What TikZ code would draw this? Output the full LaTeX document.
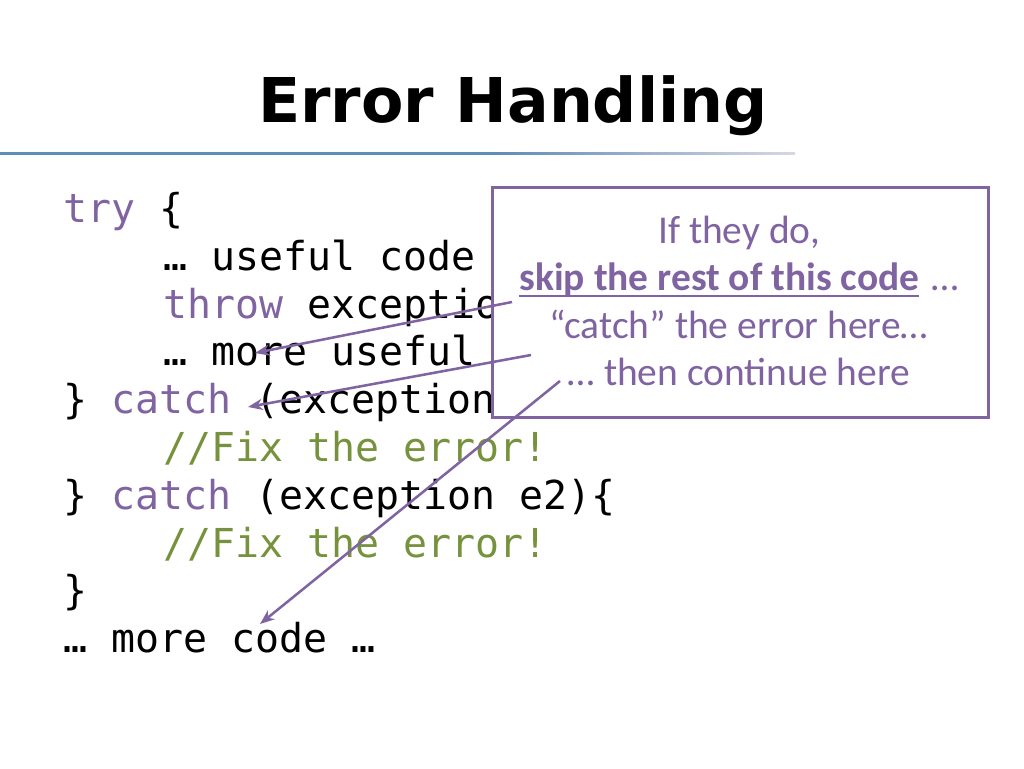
\documentclass[tikz,border=0pt]{standalone}
\usepackage{fontspec}
\setmainfont{Carlito}
\setmonofont{DejaVu Sans Mono}
\newfontfamily\titlefont{DejaVu Sans}
\usetikzlibrary{arrows.meta}

\definecolor{kwpurple}{RGB}{128,100,162}
\definecolor{cmtgreen}{RGB}{118,146,60}
\definecolor{rulblue}{RGB}{96,140,184}
\definecolor{rulgray}{RGB}{215,215,228}

\newcommand{\kw}[1]{{\color{kwpurple}#1}}
\newcommand{\cmt}[1]{{\color{cmtgreen}#1}}
\newcommand{\lineunder}[1]{\setbox0\hbox{#1}\rlap{\raisebox{-5.5pt}{\rule{\wd0}{1.8pt}}}\box0}

\tikzset{
  code/.style={anchor=base west, inner sep=0pt, font=\ttfamily\fontsize{29.9}{36}\selectfont},
  note/.style={anchor=base, inner sep=0pt, text=kwpurple, font=\fontsize{29.6}{35}\selectfont},
  pointer/.style={draw=kwpurple, line width=1.9pt, -{Stealth[length=11pt,width=8.5pt]}}
}

\begin{document}
\begin{tikzpicture}[x=0.75pt, y=-0.75pt]
      \useasboundingbox (0,0) rectangle (1024,768);
      % title and rule
      \node[anchor=base, inner sep=0pt, font=\titlefont\bfseries\fontsize{46.3}{55}\selectfont] (title) at (513,122) {Error Handling};
      \fill[rulblue] (0,152) rectangle (497,154.5);
      \shade[left color=rulblue, right color=rulgray] (497,152) rectangle (795,154.5);
      % the code
      \node[code] (try) at (63,222) {\kw{try} \{};
      \node[code] (useful) at (163,270) {… useful code};
      \node[code] (throw) at (163,318) {\kw{throw} exception};
      \node[code] (more) at (163,365) {… more useful};
      \node[code] (catchone) at (63,413) {\} \kw{catch} (exception};
      \node[code] (fixone) at (163,461) {\cmt{//Fix the error!}};
      \node[code] (catchtwo) at (63,509) {\} \kw{catch} (exception e2)\{};
      \node[code] (fixtwo) at (163,557) {\cmt{//Fix the error!}};
      \node[code] (close) at (63,604) {\}};
      \node[code] (after) at (63,652) {… more code …};
      % the note
      \node[draw=kwpurple, line width=2.25pt, fill=white, minimum width=372pt, minimum height=172.5pt] (notebox) at (740,302) {};
      \node[note] (ifline) at (739,243) {If they do,};
      \node[note] (skipline) at (739,290) {\lineunder{\bfseries skip the rest of this code}\hspace{0.3em}…};
      \node[note] (catchline) at (739,338) {“catch” the error here…};
      \node[note] (thenline) at (739,385) {… then continue here};
      % where the arrows go
      \coordinate (skipfrom) at (512,302);
      \coordinate (skipto) at (255,353);
      \coordinate (catchfrom) at (531,355);
      \coordinate (catchto) at (248,407);
      \coordinate (thenfrom) at (560,381);
      \coordinate (thento) at (260,624);
      \draw[pointer] (skipfrom) -- (skipto);
      \draw[pointer] (catchfrom) -- (catchto);
      \draw[pointer] (thenfrom) -- (thento);
\end{tikzpicture}
\end{document}
